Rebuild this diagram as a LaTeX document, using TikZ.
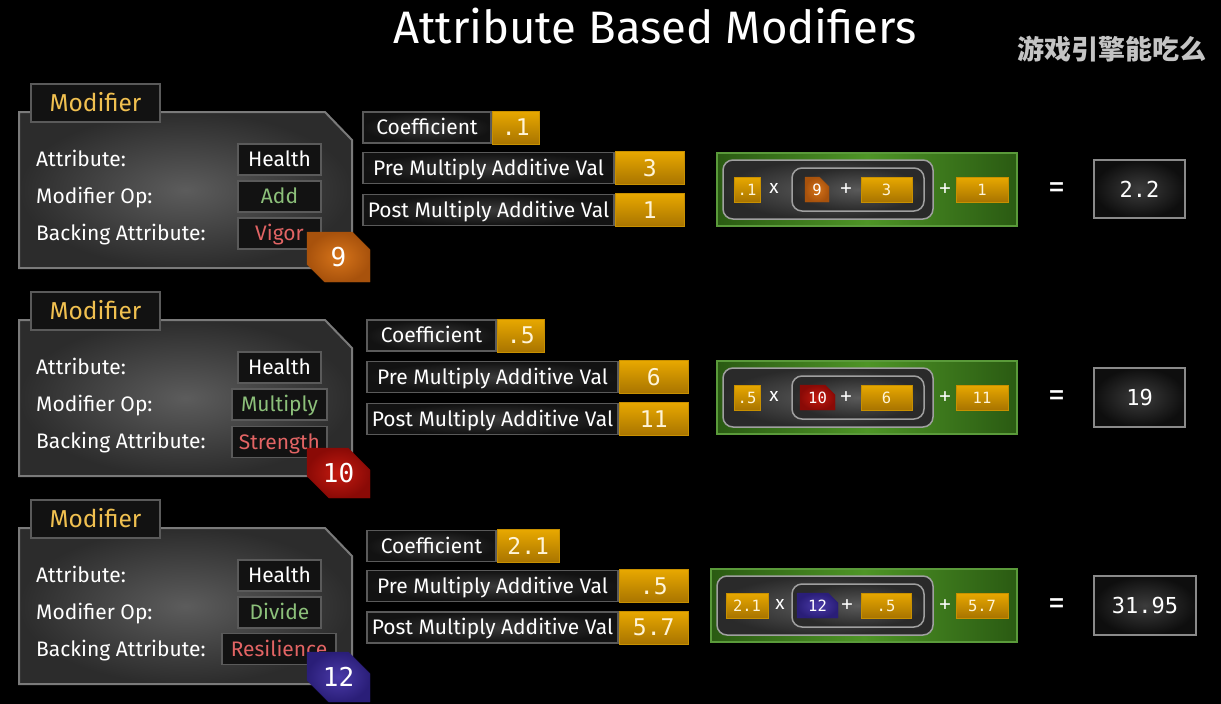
\documentclass[tikz,border=0pt]{standalone}
\usepackage{fontspec}
\setmainfont{Fira Sans}
\newfontfamily\numfont{DejaVu Sans Mono}
\newfontfamily\cjkfont{Noto Sans CJK SC}
\usepackage{tikz}
\usetikzlibrary{shapes.misc}
\newcommand{\fsz}[1]{\fontsize{#1}{#1}\selectfont}
\definecolor{panelline}{HTML}{7A7A7A}
\definecolor{panelin}{HTML}{5C5C5C}
\definecolor{panelout}{HTML}{2C2C2C}
\definecolor{boxline}{HTML}{5A5A5A}
\definecolor{boxfill}{HTML}{121212}
\definecolor{parin}{HTML}{3A3A3A}
\definecolor{tabgold}{HTML}{F0C050}
\definecolor{goldtop}{HTML}{E8A800}
\definecolor{goldbot}{HTML}{A87400}
\definecolor{goldline}{HTML}{C89000}
\definecolor{goldtext}{HTML}{FFF4D8}
\definecolor{opgreen}{HTML}{8CC07A}
\definecolor{backred}{HTML}{E26464}
\definecolor{orin}{HTML}{D6741A}
\definecolor{orout}{HTML}{A8520C}
\definecolor{redin}{HTML}{C41A10}
\definecolor{redout}{HTML}{8A0A06}
\definecolor{purin}{HTML}{4A3AA8}
\definecolor{purout}{HTML}{2A1E78}
\definecolor{greenin}{HTML}{4E9526}
\definecolor{greenout}{HTML}{2A5A12}
\definecolor{greenline}{HTML}{5A9A3A}
\definecolor{pillin}{HTML}{5A5A5A}
\definecolor{pillout}{HTML}{2A2A2A}
\definecolor{pillline}{HTML}{A0A0A0}
\definecolor{resin}{HTML}{3C3C3C}
\definecolor{resout}{HTML}{0E0E0E}
\definecolor{resline}{HTML}{8A8A8A}
\definecolor{wmgray}{HTML}{C4C4C4}

\begin{document}
\begin{tikzpicture}[x=1pt, y=-1pt,
  panel/.style={draw=panelline, line width=2pt, inner color=panelin, outer color=panelout},
  tab/.style={draw=boxline, line width=1.5pt, fill=boxfill, text=tabgold, font=\fsz{24.5},
    minimum width=129pt, minimum height=38pt, inner sep=0pt, text height=19pt, text depth=2pt},
  lbl/.style={anchor=west, text=white, font=\fsz{21}, inner sep=0pt, text height=16.5pt, text depth=2pt},
  valbox/.style={draw=boxline, line width=1.5pt, fill=boxfill, text=white, font=\fsz{21},
    minimum height=31pt, inner sep=0pt, text height=16.5pt, text depth=2pt},
  parbox/.style={draw=boxline, line width=1.5pt, inner color=parin, outer color=boxfill, text=white,
    font=\fsz{21}, minimum height=31pt, inner sep=0pt, text height=16.5pt, text depth=2pt},
  goldbox/.style={draw=goldline, line width=1pt, top color=goldtop, bottom color=goldbot, text=goldtext,
    font=\numfont\fsz{23}, minimum height=33pt, inner sep=0pt, anchor=west, text height=18.8pt, text depth=2pt},
  badge/.style={chamfered rectangle, chamfered rectangle corners={north east,south west},
    chamfered rectangle xsep=12pt, chamfered rectangle ysep=12pt, minimum width=63pt, minimum height=50pt,
    inner sep=0pt, text=white, font=\numfont\fsz{26}},
  greenbox/.style={draw=greenline, line width=1.5pt, left color=greenout, right color=greenout,
    middle color=greenin, minimum height=73pt},
  pill/.style={draw=pillline, line width=1.5pt, rounded corners=10pt, inner color=pillin, outer color=pillout},
  smallgold/.style={draw=goldline, line width=0.8pt, top color=goldtop, bottom color=goldbot, text=goldtext,
    font=\numfont\fsz{15.5}, minimum height=25pt, inner sep=0pt, text height=13.3pt, text depth=2pt},
  smallbadge/.style={chamfered rectangle, chamfered rectangle corners=north east,
    chamfered rectangle xsep=5pt, chamfered rectangle ysep=5pt, minimum height=25pt, inner sep=0pt,
    text=white, font=\numfont\fsz{15.5}},
  op/.style={text=white, font=\fsz{19}},
  plus/.style={text=white, font=\numfont\fsz{19}},
  eq/.style={text=white, font=\fsz{34}},
  result/.style={draw=resline, line width=1.5pt, inner color=resin, outer color=resout, text=white,
    font=\numfont\fsz{22}}]
  \useasboundingbox (0,0) rectangle (1221,704);
  \fill[black] (0,0) rectangle (1221,704);
  % Title
  \node[text=white, font=\fsz{45.5}] (title) at (655,26) {Attribute Based Modifiers};
  \node[text=wmgray, font=\cjkfont\bfseries\fsz{27}] (wm) at (1112,49) {游戏引擎能吃么};
  % Modifier panels
  \foreach \dy [count=\i] in {0,208,416} {
    \begin{scope}[shift={(0,\dy)}]
      \draw[panel] (19,112) -- (325,112) -- (352,140) -- (352,268) -- (19,268) -- cycle;
      \node[tab] (tab\i) at (95.5,103) {Modifier};
      \node[lbl] (la\i) at (36,159.5) {Attribute:};
      \node[lbl] (lo\i) at (36,196.5) {Modifier Op:};
      \node[lbl] (lb\i) at (36,233.5) {Backing Attribute:};
    \end{scope}
  }
  % Row 1 values
  \node[valbox, minimum width=83pt] (at1) at (279.5,159.5) {Health};
  \node[valbox, minimum width=83pt, text=opgreen] (op1) at (279.5,196.5) {Add};
  \node[valbox, minimum width=83pt, text=backred] (ba1) at (279.5,233.5) {Vigor};
  \node[badge, draw=orout, inner color=orin, outer color=orout] (bd1) at (338.5,257) {9};
  % Row 2 values
  \node[valbox, minimum width=83pt] (at2) at (279.5,367.5) {Health};
  \node[valbox, minimum width=95pt, text=opgreen] (op2) at (279.5,404.5) {Multiply};
  \node[valbox, minimum width=95pt, text=backred] (ba2) at (279.5,442) {Strength};
  \node[badge, draw=redout, inner color=redin, outer color=redout] (bd2) at (338.5,473) {10};
  % Row 3 values
  \node[valbox, minimum width=83pt] (at3) at (279.5,575.5) {Health};
  \node[valbox, minimum width=83pt, text=opgreen] (op3) at (279.5,612.5) {Divide};
  \node[valbox, minimum width=114pt, text=backred] (ba3) at (279,649) {Resilience};
  \node[badge, draw=purout, inner color=purin, outer color=purout] (bd3) at (338.5,677) {12};
  % Coefficients
  \node[parbox, minimum width=128pt] (c1) at (427,127.5) {Coefficient};
  \node[goldbox, minimum width=47pt] (cv1) at (c1.east) {.1};
  \node[parbox, minimum width=251pt] (p1) at (488.5,168) {Pre Multiply Additive Val};
  \node[goldbox, minimum width=69pt] (pv1) at (p1.east) {3};
  \node[parbox, minimum width=251pt] (q1) at (488.5,210) {Post Multiply Additive Val};
  \node[goldbox, minimum width=69pt] (qv1) at (q1.east) {1};

  \node[parbox, minimum width=129pt] (c2) at (431.5,335.5) {Coefficient};
  \node[goldbox, minimum width=47pt] (cv2) at (c2.east) {.5};
  \node[parbox, minimum width=251pt] (p2) at (492.5,377) {Pre Multiply Additive Val};
  \node[goldbox, minimum width=69pt] (pv2) at (p2.east) {6};
  \node[parbox, minimum width=251pt] (q2) at (492.5,419) {Post Multiply Additive Val};
  \node[goldbox, minimum width=69pt] (qv2) at (q2.east) {11};

  \node[parbox, minimum width=129pt] (c3) at (431.5,546) {Coefficient};
  \node[goldbox, minimum width=62pt] (cv3) at (c3.east) {2.1};
  \node[parbox, minimum width=251pt] (p3) at (492.5,586) {Pre Multiply Additive Val};
  \node[goldbox, minimum width=69pt] (pv3) at (p3.east) {.5};
  \node[parbox, minimum width=251pt] (q3) at (492.5,627.5) {Post Multiply Additive Val};
  \node[goldbox, minimum width=69pt] (qv3) at (q3.east) {5.7};
  % Formula row 1
  \node[greenbox, minimum width=300pt] (g1) at (867,189.5) {};
  \node[pill, minimum width=210pt, minimum height=59pt] (o1) at (828,189.5) {};
  \node[pill, minimum width=132pt, minimum height=43pt] (i1) at (858,189.5) {};
  \node[smallgold, minimum width=26pt] (fc1) at (747,189.5) {.1};
  \node[op] (x1) at (774,188) {x};
  \node[smallbadge, draw=orout, inner color=orin, outer color=orout, minimum width=24pt] (fb1) at (817,189.5) {9};
  \node[plus] (pl1) at (846,189.5) {+};
  \node[smallgold, minimum width=51pt] (fp1) at (886.5,189.5) {3};
  \node[plus] (pm1) at (945,189.5) {+};
  \node[smallgold, minimum width=52pt] (fq1) at (982,189.5) {1};
  \node[eq] (eq1) at (1057,191) {=};
  \node[result, minimum width=91pt, minimum height=58pt] (r1) at (1139.5,189) {2.2};
  % Formula row 2
  \node[greenbox, minimum width=300pt] (g2) at (867,397.5) {};
  \node[pill, minimum width=210pt, minimum height=59pt] (o2) at (828,397.5) {};
  \node[pill, minimum width=132pt, minimum height=43pt] (i2) at (858,397.5) {};
  \node[smallgold, minimum width=26pt] (fc2) at (747,397.5) {.5};
  \node[op] (x2) at (774,396) {x};
  \node[smallbadge, draw=redout, inner color=redin, outer color=redout, minimum width=35pt] (fb2) at (817.5,397.5) {10};
  \node[plus] (pl2) at (846,397.5) {+};
  \node[smallgold, minimum width=51pt] (fp2) at (886.5,397.5) {6};
  \node[plus] (pm2) at (945,397.5) {+};
  \node[smallgold, minimum width=52pt] (fq2) at (982,397.5) {11};
  \node[eq] (eq2) at (1057,399) {=};
  \node[result, minimum width=91pt, minimum height=59pt] (r2) at (1139.5,397.5) {19};
  % Formula row 3
  \node[greenbox, minimum width=306pt] (g3) at (864,605.5) {};
  \node[pill, minimum width=216pt, minimum height=59pt] (o3) at (825,605.5) {};
  \node[pill, minimum width=132pt, minimum height=43pt] (i3) at (858,605.5) {};
  \node[smallgold, minimum width=42pt] (fc3) at (747,605.5) {2.1};
  \node[op] (x3) at (780,604) {x};
  \node[smallbadge, draw=purout, inner color=purin, outer color=purout, minimum width=41pt] (fb3) at (817.5,605.5) {12};
  \node[plus] (pl3) at (847,605.5) {+};
  \node[smallgold, minimum width=50pt] (fp3) at (886,605.5) {.5};
  \node[plus] (pm3) at (945,605.5) {+};
  \node[smallgold, minimum width=52pt] (fq3) at (982,605.5) {5.7};
  \node[eq] (eq3) at (1057,607) {=};
  \node[result, minimum width=102pt, minimum height=59pt] (r3) at (1145,605.5) {31.95};
\end{tikzpicture}
\end{document}
